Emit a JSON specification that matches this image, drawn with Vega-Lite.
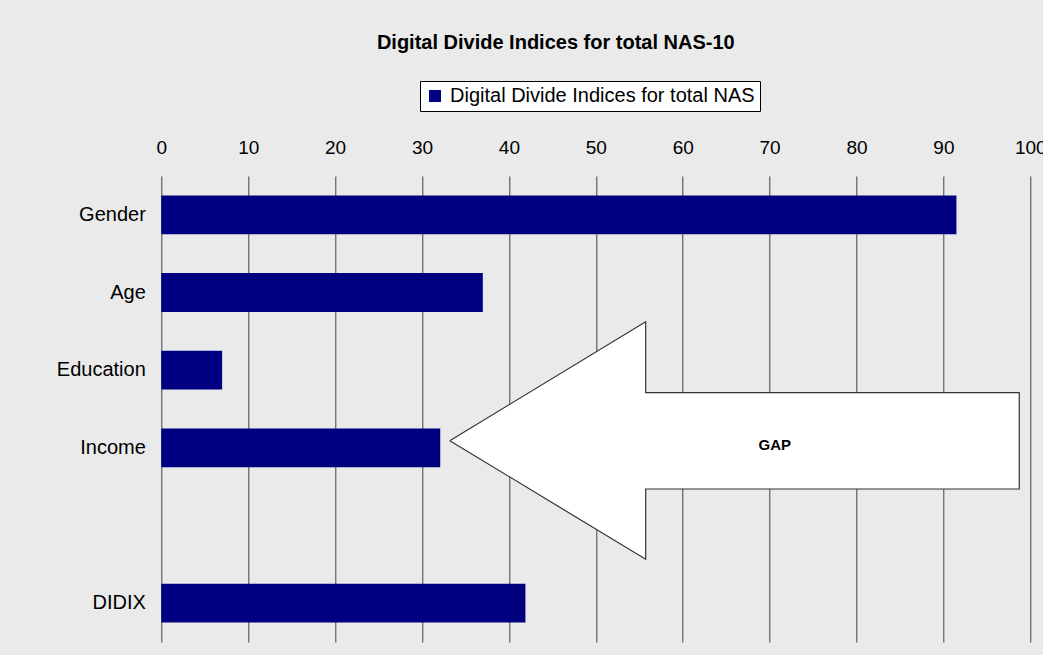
{
  "$schema": "https://vega.github.io/schema/vega-lite/v6.json",
  "width": 869,
  "height": 466,
  "autosize": {"type": "none"},
  "padding": {"left": 161.3, "top": 176, "right": 12.7, "bottom": 13},
  "background": "#EAEAEA",
  "title": {
    "text": "Digital Divide Indices for total NAS-10",
    "fontSize": 20,
    "fontWeight": "bold",
    "color": "#000000",
    "anchor": "middle",
    "frame": "group",
    "dx": -40,
    "offset": 28
  },
  "config": {
    "font": "Liberation Sans",
    "view": {"stroke": null},
    "legend": {
      "strokeColor": "#000000",
      "fillColor": "#FFFFFF",
      "padding": 5,
      "labelFontSize": 20,
      "labelColor": "#000000",
      "labelOffset": 5,
      "symbolType": "square",
      "symbolSize": 144,
      "symbolStrokeWidth": 0,
      "labelLimit": 500
    }
  },
  "resolve": {"scale": {"y": "independent"}, "axis": {"y": "independent"}},
  "layer": [
    {
      "data": {
        "values": [
          {"category": "Gender", "value": 91.5, "series": "Digital Divide Indices for total NAS"},
          {"category": "Age", "value": 37.0, "series": "Digital Divide Indices for total NAS"},
          {"category": "Education", "value": 7.0, "series": "Digital Divide Indices for total NAS"},
          {"category": "Income", "value": 32.1, "series": "Digital Divide Indices for total NAS"},
          {"category": "DIDIX", "value": 41.9, "series": "Digital Divide Indices for total NAS"}
        ]
      },
      "mark": {"type": "bar"},
      "encoding": {
        "y": {
          "field": "category",
          "type": "nominal",
          "sort": null,
          "scale": {
            "domain": ["Gender", "Age", "Education", "Income", " ", "DIDIX"],
            "paddingInner": 0.5,
            "paddingOuter": 0.25
          },
          "axis": {
            "title": null,
            "domain": false,
            "ticks": false,
            "tickSize": 0,
            "labelFontSize": 20,
            "labelColor": "#000000",
            "labelPadding": 16
          }
        },
        "x": {
          "field": "value",
          "type": "quantitative",
          "scale": {"domain": [0, 100], "nice": false, "zero": true},
          "axis": {
            "orient": "top",
            "title": null,
            "values": [0, 10, 20, 30, 40, 50, 60, 70, 80, 90, 100],
            "grid": true,
            "gridColor": "#444444",
            "gridWidth": 1,
            "gridOpacity": 1,
            "domain": false,
            "ticks": false,
            "tickSize": 0,
            "labelFontSize": 19,
            "labelColor": "#000000",
            "labelPadding": 19,
            "labelFlush": false,
            "labelOverlap": false
          }
        },
        "color": {
          "field": "series",
          "type": "nominal",
          "scale": {"range": ["#000080"]},
          "legend": {"title": null, "orient": "none", "legendX": 258.7, "legendY": -95}
        }
      }
    },
    {
      "data": {
        "values": [
          {"value": 33.2, "row": 3.408, "order": 1},
          {"value": 55.74, "row": 1.876, "order": 2},
          {"value": 55.74, "row": 2.79, "order": 3},
          {"value": 98.73, "row": 2.79, "order": 4},
          {"value": 98.73, "row": 4.03, "order": 5},
          {"value": 55.74, "row": 4.03, "order": 6},
          {"value": 55.74, "row": 4.935, "order": 7},
          {"value": 33.2, "row": 3.408, "order": 8}
        ]
      },
      "mark": {"type": "line", "fill": "#FFFFFF", "stroke": "#333333", "strokeWidth": 1.2, "strokeJoin": "miter", "interpolate": "linear"},
      "encoding": {
        "x": {"field": "value", "type": "quantitative"},
        "y": {
          "field": "row",
          "type": "quantitative",
          "scale": {"domain": [0, 6], "reverse": true, "nice": false, "zero": false},
          "axis": null
        },
        "order": {"field": "order", "type": "quantitative"}
      }
    },
    {
      "data": {
        "values": [
          {"value": 70.6, "row": 3.46, "label": "GAP"}
        ]
      },
      "mark": {"type": "text", "fontSize": 15, "fontWeight": "bold", "color": "#000000", "align": "center", "baseline": "middle"},
      "encoding": {
        "x": {"field": "value", "type": "quantitative"},
        "y": {
          "field": "row",
          "type": "quantitative",
          "scale": {"domain": [0, 6], "reverse": true, "nice": false, "zero": false},
          "axis": null
        },
        "text": {"field": "label", "type": "nominal"}
      }
    }
  ]
}
